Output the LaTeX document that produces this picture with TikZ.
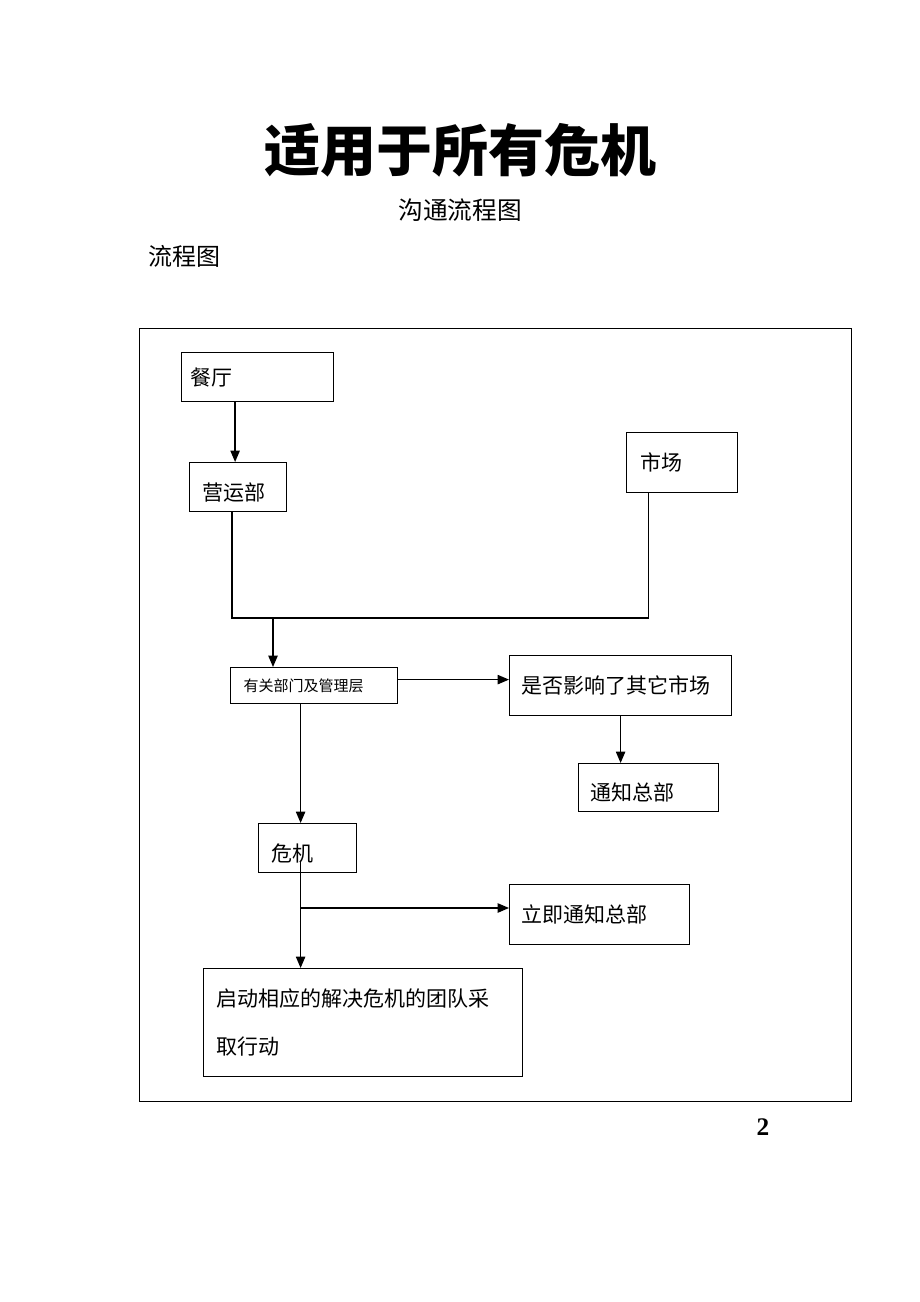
\documentclass[tikz,border=0pt]{standalone}
\usepackage{fontspec}
\setmainfont{Liberation Serif}
\newfontfamily\cjk{Noto Sans CJK SC}
\usepackage{tikz}
\usetikzlibrary{ arrows.meta }

\begin{document}
\begin{tikzpicture}[x=0.75pt,y=-0.75pt,
    box/.style={draw,line width=0.9pt,anchor=north west,inner ysep=0pt,align=left,
        font=\cjk\fontsize{15.75}{18}\selectfont},
    low/.style={text height=21pt,text depth=1pt},
    arr/.style={line width=1pt,-{Triangle[length=8.5pt,width=7pt]}},
    wire/.style={line width=1pt}]
    \useasboundingbox (0,0) rectangle (920,1302);
    \node (title) at (460,150) {\cjk\bfseries\fontsize{42}{42}\selectfont 适用于所有危机};
    \node (sub) at (460,210) {\cjk\fontsize{18.5}{18.5}\selectfont 沟通流程图};
    \node[anchor=west,inner sep=0pt] (lct) at (148,256) {\cjk\fontsize{18}{18}\selectfont 流程图};
    \draw[line width=0.75pt] (139,328) rectangle (851,1101);
    \node[box,text width=100.5pt,inner xsep=6.75pt,minimum height=36.75pt] (ct) at (181,352) {餐厅};
    \node[box,low,text width=53.25pt,inner xsep=9.75pt,minimum height=36.75pt] (yyb) at (189,462) {营运部};
    \node[box,text width=62.25pt,inner xsep=10.5pt,minimum height=45pt] (sc) at (626,432) {市场};
    \node[box,text width=105.75pt,inner xsep=9.75pt,minimum height=27pt,
        font=\cjk\fontsize{11.25}{13}\selectfont] (ygb) at (230,667) {有关部门及管理层};
    \node[box,text width=148.5pt,inner xsep=9pt,minimum height=45pt] (sf) at (509,655) {是否影响了其它市场};
    \node[box,low,text width=87pt,inner xsep=9pt,minimum height=36pt] (tz) at (578,763) {通知总部};
    \node[box,low,text width=54pt,inner xsep=9.75pt,minimum height=36.75pt] (wj) at (258,823) {危机};
    \node[box,text width=117pt,inner xsep=9pt,minimum height=45pt] (lj) at (509,884) {立即通知总部};
    \node[box,text width=219.75pt,inner xsep=9.75pt,minimum height=81pt,
        font=\cjk\fontsize{15.75}{36}\selectfont] (qd) at (203,968) {启动相应的解决危机的团队采\\取行动};
    \node (pg) at (763,1127) {\fontsize{19}{19}\selectfont\bfseries 2};
    \coordinate (hub) at (273,618);
    \coordinate (br) at (300,908);
    \draw[arr] ([xshift=-2.25pt]ct.south -| yyb.north) -- ([xshift=-2.25pt]yyb.north);
    \draw[wire] ([xshift=-4.5pt]yyb.south) |- (hub) -| ([xshift=-25pt]sc.south);
    \draw[arr] (hub) -- (hub |- ygb.north);
    \draw[arr] ([yshift=4.5pt]ygb.east) -- ([yshift=4.5pt]ygb.east -| sf.west);
    \draw[arr] (sf.south) -- (sf.south |- tz.north);
    \draw[arr] ([xshift=-5.25pt]wj.north |- ygb.south) -- ([xshift=-5.25pt]wj.north);
    \draw[arr] ([xshift=-5.25pt,yshift=9pt]wj.south) -- ([xshift=-5.25pt]wj.south |- qd.north);
    \draw[arr] (br) -- (br -| lj.west);
\end{tikzpicture}
\end{document}
